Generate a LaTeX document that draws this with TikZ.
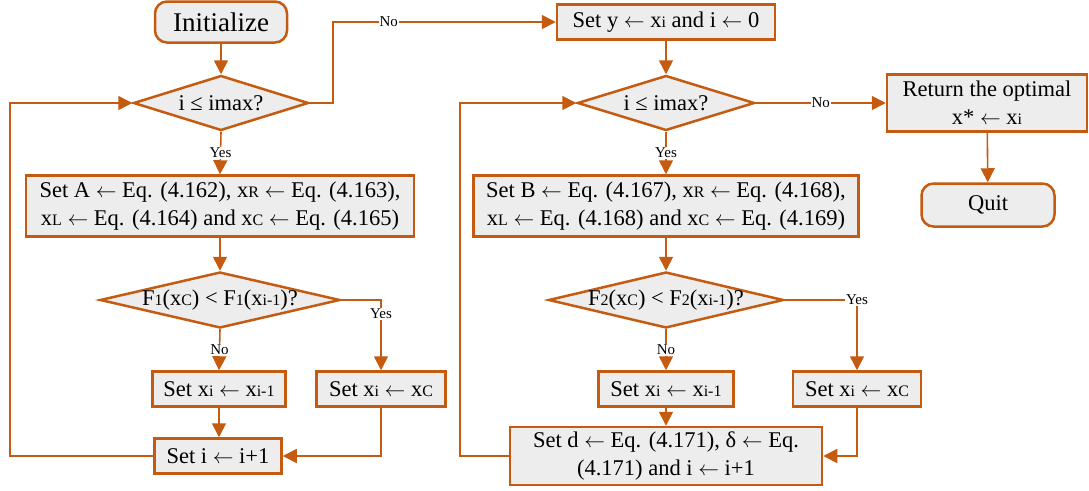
\documentclass[tikz,border=0pt]{standalone}
\usepackage{fontspec}
\setmainfont{Liberation Serif}
\usetikzlibrary{shapes.geometric,arrows.meta}
\definecolor{ora}{HTML}{C55A11}
\definecolor{boxfill}{HTML}{EDEDED}
\newcommand\mainfs{\fontsize{22.5}{28}\selectfont}
\newcommand\bigfs{\fontsize{27}{30}\selectfont}
\newcommand\labfs{\fontsize{15}{15}\selectfont}
\newcommand\sm[1]{{\fontsize{16}{16}\selectfont #1}}
\newcommand\la{\ensuremath{\leftarrow}}
\tikzset{
  box/.style={draw=ora, line width=2.5pt, fill=boxfill, inner sep=0pt, font=\mainfs, align=center},
  rbox/.style={box, rounded corners=12pt},
  dia/.style={diamond, draw=ora, line width=2.5pt, fill=boxfill, inner sep=0pt},
  dtext/.style={font=\mainfs, inner sep=0pt},
  conn/.style={draw=ora, line width=1.6pt},
  arr/.style={conn, -{Triangle[length=14pt,width=14pt]}},
  lab/.style={fill=white, inner sep=1pt, font=\labfs}
}
\begin{document}
\begin{tikzpicture}[x=1pt,y=-1pt]
\useasboundingbox (0,0) rectangle (1089,490);
% left column
\node[rbox, font=\bigfs, minimum width=132pt, minimum height=41pt] (init) at (221,22) {Initialize};
\node[dia, minimum width=175pt, minimum height=55pt] (d1) at (221,103) {};
\node[dtext] (d1t) at (d1) {i ≤ imax?};
\node[box, minimum width=388pt, minimum height=61pt] (A) at (220,206) {Set A \la{} Eq. (4.162), x\sm{R} \la{} Eq. (4.163),\\ x\sm{L} \la{} Eq. (4.164) and x\sm{C} \la{} Eq. (4.165)};
\node[dia, minimum width=240pt, minimum height=56pt] (f1) at (220,300) {};
\node[dtext] (f1t) at (f1) {F\sm{1}(x\sm{C}) < F\sm{1}(x\sm{i-1})?};
\node[box, minimum width=133pt, minimum height=35pt] (c1) at (219,389) {Set x\sm{i} \la{} x\sm{i-1}};
\node[box, minimum width=129pt, minimum height=35pt] (y1) at (381,389) {Set x\sm{i} \la{} x\sm{C}};
\node[box, minimum width=127pt, minimum height=35pt] (i1) at (218,456) {Set i \la{} i+1};
% right column
\node[box, minimum width=218pt, minimum height=35pt] (sety) at (666,22) {Set y \la{} x\sm{i} and i \la{} 0};
\node[dia, minimum width=177pt, minimum height=55pt] (d2) at (666,103) {};
\node[dtext] (d2t) at (d2) {i ≤ imax?};
\node[box, minimum width=385pt, minimum height=61pt] (B) at (666,206) {Set B \la{} Eq. (4.167), x\sm{R} \la{} Eq. (4.168),\\ x\sm{L} \la{} Eq. (4.168) and x\sm{C} \la{} Eq. (4.169)};
\node[dia, minimum width=235pt, minimum height=56pt] (f2) at (666,300) {};
\node[dtext] (f2t) at (f2) {F\sm{2}(x\sm{C}) < F\sm{2}(x\sm{i-1})?};
\node[box, minimum width=135pt, minimum height=35pt] (c2) at (666,389) {Set x\sm{i} \la{} x\sm{i-1}};
\node[box, minimum width=128pt, minimum height=35pt] (y2) at (857,389) {Set x\sm{i} \la{} x\sm{C}};
\node[box, minimum width=312pt, minimum height=58pt] (dbox) at (666,456) {Set d \la{} Eq. (4.171), δ \la{} Eq.\\ (4.171) and i \la{} i+1};
\node[box, minimum width=200pt, minimum height=57pt] (ret) at (987,103) {Return the optimal\\ x* \la{} x\sm{i}};
\node[rbox, minimum width=133pt, minimum height=43pt] (quit) at (988,205) {Quit};
% coordinates
\coordinate (n1) at (333,22);
\coordinate (l1) at (10,103);
\coordinate (l2) at (460,103);
% connectors left
\draw[arr] (init) -- (d1);
\draw[arr] (d1.east) -| (n1) -- node[lab, pos=0.25]{No} (sety.west);
\draw[arr] (d1.south) -- node[lab]{Yes} (A.north);
\draw[arr] (A.south) -- (f1.north);
\draw[arr] (f1.east) -| node[lab, pos=0.6]{Yes} (y1.north);
\draw[arr] (f1.south) -- node[lab]{No} (c1.north);
\draw[arr] (c1.south) -- (c1.south |- i1.north);
\draw[arr] (y1.south) |- (i1.east);
\draw[arr] (i1.west) -| (l1) -- (d1.west);
% connectors right
\draw[arr] (sety) -- (d2);
\draw[arr] (d2.east) -- node[lab]{No} (ret.west);
\draw[arr] (d2.south) -- node[lab]{Yes} (B.north);
\draw[arr] (B.south) -- (f2.north);
\draw[arr] (f2.east) -| node[lab, pos=0.5]{Yes} (y2.north);
\draw[arr] (f2.south) -- node[lab]{No} (c2.north);
\draw[arr] (c2.south) -- (dbox.north);
\draw[arr] (y2.south) |- (dbox.east);
\draw[arr] (dbox.west) -| (l2) -- (d2.west);
\draw[arr] (ret) -- (quit);
\end{tikzpicture}
\end{document}
